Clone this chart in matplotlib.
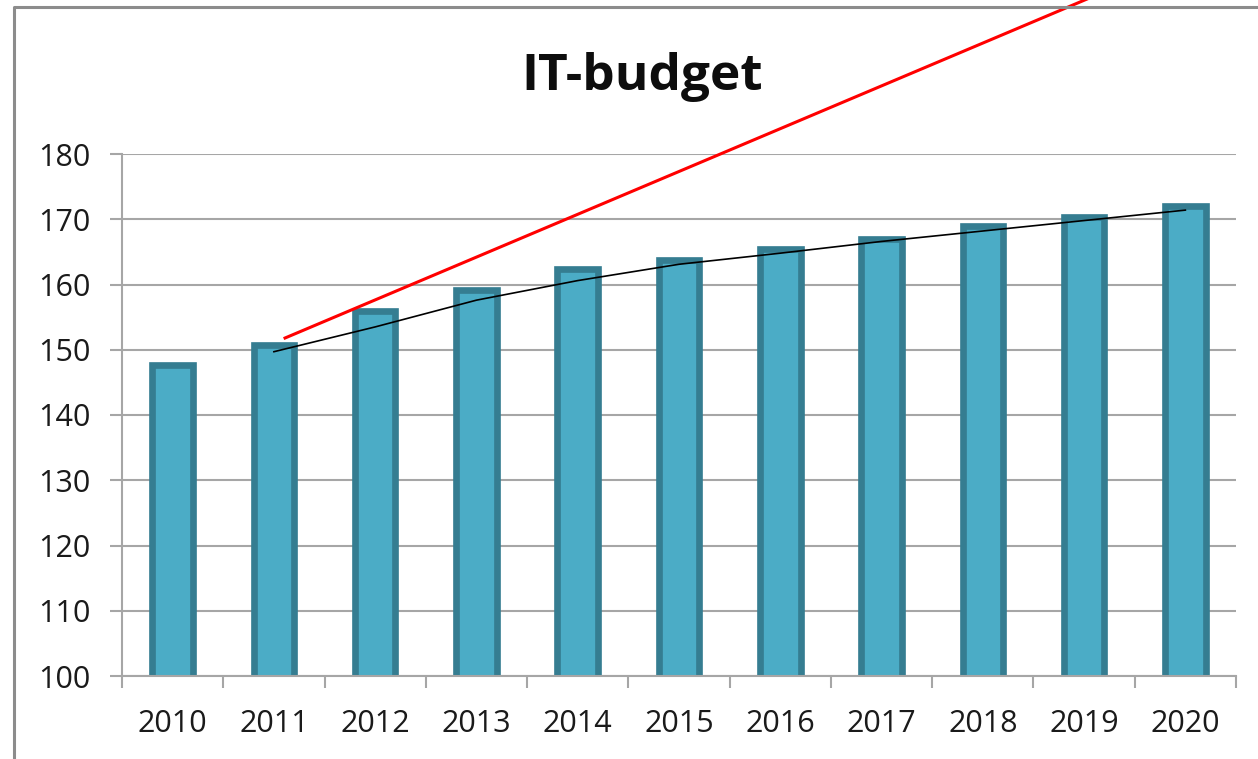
import matplotlib.pyplot as plt
from matplotlib.lines import Line2D
import numpy as np

years = ['2010', '2011', '2012', '2013', '2014', '2015', '2016', '2017', '2018', '2019', '2020']
budget = [147.7, 150.8, 155.9, 159.1, 162.3, 163.7, 165.5, 166.9, 168.9, 170.4, 172.1]

# black line, 2011..2020
line_years = years[1:]
line_vals = [149.7, 153.5, 157.6, 160.6, 163.1, 164.8, 166.6, 168.2, 169.8, 171.4]

# hand drawn red line (category position, value)
red_x = [1.11, 9.25]
red_y = [151.8, 205.2]

plt.rcParams['font.family'] = ['Open Sans', 'DejaVu Sans']

W, H = 1258, 759
fig = plt.figure(figsize=(W / 100, H / 100), dpi=100)
ax = fig.add_axes([122 / W, 1 - 676 / H, (1236 - 122) / W, (676 - 154) / H])

grey = '#a6a6a6'
x = np.arange(len(years))
ax.bar(x, budget, width=0.40, color='#4bacc6', edgecolor='#357d91', linewidth=4.8, zorder=2)

lx = [years.index(y) for y in line_years]
ax.plot(lx, line_vals, color='black', linewidth=1.2, zorder=3)
ax.plot(red_x, red_y, color='#ff0000', linewidth=2.2, zorder=4, clip_on=False)

ax.set_xlim(-0.5, len(years) - 0.5)
ax.set_ylim(100, 180)
ax.set_yticks(np.arange(100, 181, 10))
ax.yaxis.grid(True, color=grey, linewidth=1.5, zorder=0)
ax.set_axisbelow(True)

# ticks at category boundaries, labels at centers
ax.set_xticks(np.arange(-0.5, len(years), 1.0))
ax.set_xticklabels([])
ax.set_xticks(x, minor=True)
ax.set_xticklabels(years, minor=True)
ax.tick_params(axis='x', which='major', direction='out', length=8.6, width=1.5, color=grey)
ax.tick_params(axis='x', which='minor', length=0, pad=24, labelsize=22, labelcolor='#1a1a1a')
ax.tick_params(axis='y', direction='out', length=8.6, width=1.5, color=grey,
               pad=14, labelsize=22, labelcolor='#1a1a1a')

for s in ['top', 'right']:
    ax.spines[s].set_visible(False)
for s in ['left', 'bottom']:
    ax.spines[s].set_color(grey)
    ax.spines[s].set_linewidth(1.5)

fig.text(642 / W, 1 - 77 / H, 'IT-budget', ha='center', va='center',
         fontsize=37, fontweight='bold', color='#0d0d0d')

# chart frame (top and left edges visible)
fig.add_artist(Line2D([14 / W, 14 / W, 1.0], [0.0, 1 - 7 / H, 1 - 7 / H],
                      color='#8c8c8c', linewidth=2.2))

plt.savefig('out.png', dpi=100)
